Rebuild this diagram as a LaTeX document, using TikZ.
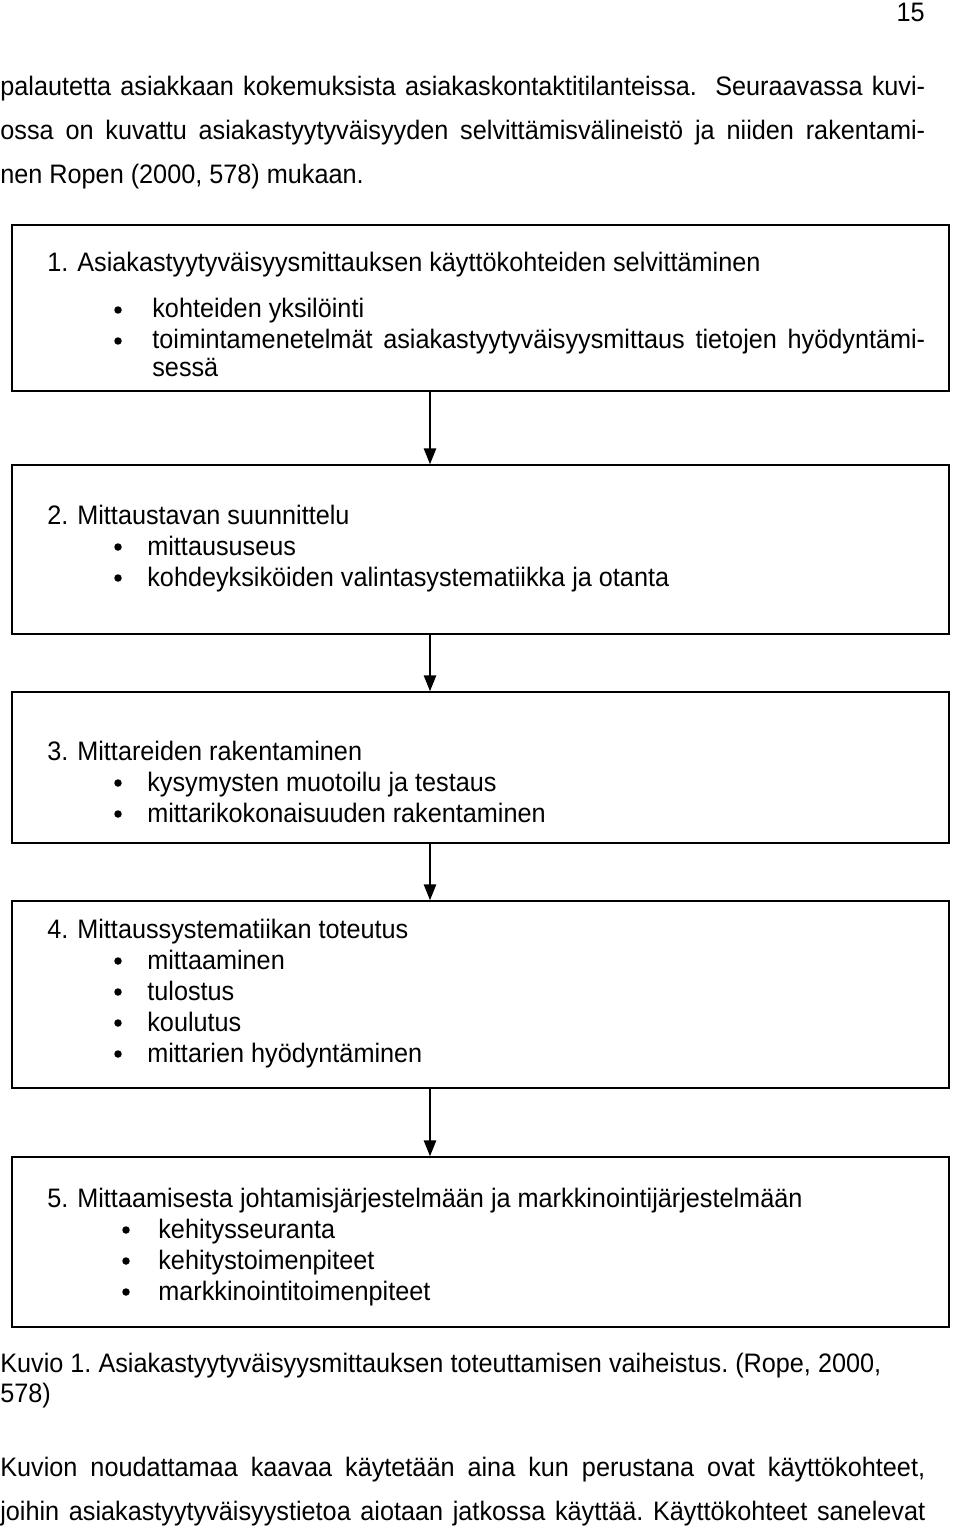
\documentclass[tikz,border=0pt]{standalone}
\usepackage{fontspec}
\setmainfont{Liberation Sans}[FakeStretch=0.945]
\frenchspacing
\usetikzlibrary{arrows.meta, positioning}

\begin{document}
\begin{tikzpicture}[
  x=0.02cm, y=-0.02cm,
  box/.style={draw, line width=0.9pt, minimum width=18.74cm, inner sep=0pt},
  txt/.style={anchor=base west, inner sep=0pt, font=\fontsize{15.2pt}{17pt}\selectfont},
  dot/.style={circle, fill, inner sep=0pt, minimum size=0.15cm},
  flow/.style={-{Triangle[length=9pt, width=7pt]}, line width=0.9pt}
]
  \useasboundingbox (0,0) rectangle (960,1527);
  \coordinate (spine) at (430,0);

  % Page number and text above
  \node[txt, anchor=base east] (pagenum) at (925,22) {15};
  \node[txt] (intro1) at (0,96) {\makebox[18.5cm][s]{palautetta asiakkaan kokemuksista asiakaskontaktitilanteissa.\ \ Seuraavassa kuvi-}};
  \node[txt] (intro2) at (0,140) {\makebox[18.5cm][s]{ossa on kuvattu asiakastyytyväisyyden selvittämisvälineistö ja niiden rakentami-}};
  \node[txt] (intro3) at (0,184) {nen Ropen (2000, 578) mukaan.};

  % Boxes
  \node[box, minimum height=3.32cm] (step1) at (480.5,308) {};
  \node[box, minimum height=3.38cm] (step2) at (480.5,549.5) {};
  \node[box, minimum height=3.02cm] (step3) at (480.5,767.5) {};
  \node[box, minimum height=3.74cm] (step4) at (480.5,994.5) {};
  \node[box, minimum height=3.40cm] (step5) at (480.5,1242) {};

  % Arrows between boxes
  \draw[flow] (step1.south -| spine) -- (step2.north -| spine);
  \draw[flow] (step2.south -| spine) -- (step3.north -| spine);
  \draw[flow] (step3.south -| spine) -- (step4.north -| spine);
  \draw[flow] (step4.south -| spine) -- (step5.north -| spine);

  % Box 1
  \node[txt] (n1) at (47,272) {1.};
  \node[txt] (h1) at (77,272) {Asiakastyytyväisyysmittauksen käyttökohteiden selvittäminen};
  \node[dot] (d1a) at (118,310) {};
  \node[txt] (t1a) at (152,317) {kohteiden yksilöinti};
  \node[dot] (d1b) at (118,341) {};
  \node[txt] (t1b) at (152,348) {\makebox[15.46cm][s]{toimintamenetelmät asiakastyytyväisyysmittaus tietojen hyödyntämi-}};
  \node[txt] (t1c) at (152,377) {sessä};

  % Box 2
  \node[txt] (n2) at (47,524) {2.};
  \node[txt] (h2) at (77,524) {Mittaustavan suunnittelu};
  \node[dot] (d2a) at (118,547) {};
  \node[txt] (t2a) at (147,555) {mittaususeus};
  \node[dot] (d2b) at (118,578) {};
  \node[txt] (t2b) at (147,586) {kohdeyksiköiden valintasystematiikka ja otanta};

  % Box 3
  \node[txt] (n3) at (47,760) {3.};
  \node[txt] (h3) at (77,760) {Mittareiden rakentaminen};
  \node[dot] (d3a) at (118,783) {};
  \node[txt] (t3a) at (147,791) {kysymysten muotoilu ja testaus};
  \node[dot] (d3b) at (118,814) {};
  \node[txt] (t3b) at (147,822) {mittarikokonaisuuden rakentaminen};

  % Box 4
  \node[txt] (n4) at (47,938) {4.};
  \node[txt] (h4) at (77,938) {Mittaussystematiikan toteutus};
  \node[dot] (d4a) at (118,961) {};
  \node[txt] (t4a) at (147,969) {mittaaminen};
  \node[dot] (d4b) at (118,992) {};
  \node[txt] (t4b) at (147,1000) {tulostus};
  \node[dot] (d4c) at (118,1023) {};
  \node[txt] (t4c) at (147,1031) {koulutus};
  \node[dot] (d4d) at (118,1054) {};
  \node[txt] (t4d) at (147,1062) {mittarien hyödyntäminen};

  % Box 5
  \node[txt] (n5) at (47,1207) {5.};
  \node[txt] (h5) at (77,1207) {Mittaamisesta johtamisjärjestelmään ja markkinointijärjestelmään};
  \node[dot] (d5a) at (126,1230) {};
  \node[txt] (t5a) at (158,1238) {kehitysseuranta};
  \node[dot] (d5b) at (126,1261) {};
  \node[txt] (t5b) at (158,1269) {kehitystoimenpiteet};
  \node[dot] (d5c) at (126,1292) {};
  \node[txt] (t5c) at (158,1300) {markkinointitoimenpiteet};

  % Caption and text below
  \node[txt] (cap1) at (0,1372) {Kuvio 1. Asiakastyytyväisyysmittauksen toteuttamisen vaiheistus. (Rope, 2000,};
  \node[txt] (cap2) at (0,1402) {578)};
  \node[txt] (outro1) at (0,1476) {\makebox[18.5cm][s]{Kuvion noudattamaa kaavaa käytetään aina kun perustana ovat käyttökohteet,}};
  \node[txt] (outro2) at (0,1520) {\makebox[18.5cm][s]{joihin asiakastyytyväisyystietoa aiotaan jatkossa käyttää. Käyttökohteet sanelevat}};
\end{tikzpicture}
\end{document}
